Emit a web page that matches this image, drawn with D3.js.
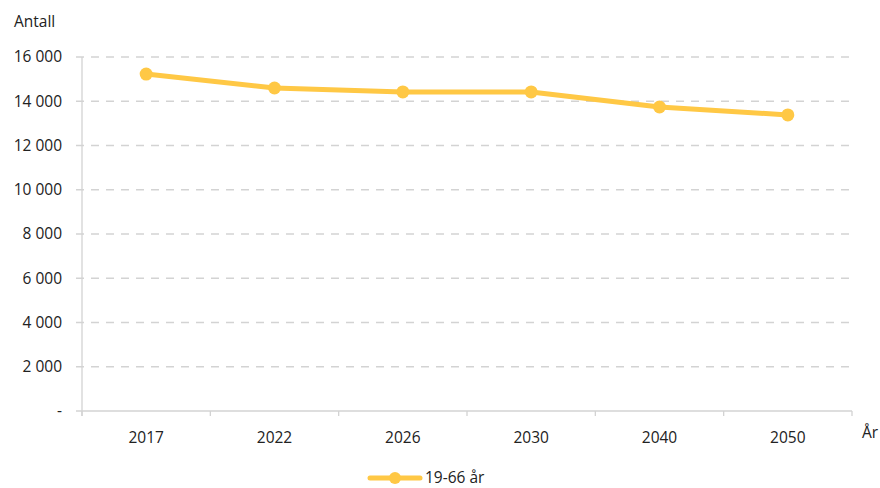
<!DOCTYPE html>
<html>
<head>
<meta charset="utf-8">
<script src="https://cdn.jsdelivr.net/npm/d3@7"></script>
<style>
  body { margin: 0; background: #fff; }
  text { font-family: "Open Sans", sans-serif; fill: #222; }
</style>
</head>
<body>
<div id="chart"></div>
<script>
// Data
const years = ["2017", "2022", "2026", "2030", "2040", "2050"];
const persons = [15230, 14600, 14420, 14420, 13740, 13380];
const yTicks = [0, 2000, 4000, 6000, 8000, 10000, 12000, 14000, 16000];
const seriesName = "19-66 år";

const width = 880, height = 488;
const margin = { top: 57, right: 28, bottom: 77, left: 82 };
const lineColor = "#ffc845";
const fontSize = "15.5px";

const svg = d3.select("#chart").append("svg")
    .attr("width", width)
    .attr("height", height);

const x = d3.scaleBand()
    .domain(years)
    .range([margin.left, width - margin.right]);

const y = d3.scaleLinear()
    .domain([0, 16000])
    .range([height - margin.bottom, margin.top]);

// space as thousands separator, "-" for zero
const nb = d3.formatLocale({ decimal: ",", thousands: "\u2009", grouping: [3], currency: ["", " kr"] });
const fmt = v => v === 0 ? "-" : nb.format(",")(v).replace("\u2009", " ");

// gridlines
svg.append("g")
    .selectAll("line")
    .data(yTicks.filter(d => d > 0))
    .enter()
    .append("line")
    .attr("x1", margin.left - 6)
    .attr("x2", width - margin.right)
    .attr("y1", d => y(d))
    .attr("y2", d => y(d))
    .attr("stroke", "#d3d3d3")
    .attr("stroke-width", 1.3)
    .attr("stroke-dasharray", "8,7");

// y axis line
svg.append("line")
    .attr("x1", margin.left).attr("x2", margin.left)
    .attr("y1", y(16000)).attr("y2", y(0) + 5)
    .attr("stroke", "#d3d3d3").attr("stroke-width", 1.3);

svg.append("line")
    .attr("x1", margin.left - 6).attr("x2", width - margin.right)
    .attr("y1", y(0)).attr("y2", y(0))
    .attr("stroke", "#d3d3d3").attr("stroke-width", 1.3);

// x tick marks at band edges
const edges = years.map(d => x(d)).concat([x.range()[1]]);
svg.append("g")
    .selectAll("line")
    .data(edges)
    .enter()
    .append("line")
    .attr("x1", d => d).attr("x2", d => d)
    .attr("y1", y(0)).attr("y2", y(0) + 5)
    .attr("stroke", "#d3d3d3").attr("stroke-width", 1.3);

// y labels
svg.append("g")
    .selectAll("text")
    .data(yTicks)
    .enter()
    .append("text")
    .attr("x", margin.left - 20)
    .attr("y", d => y(d))
    .attr("dy", "0.35em")
    .attr("text-anchor", "end")
    .style("font-size", fontSize)
    .text(fmt);

// x labels
svg.append("g")
    .selectAll("text")
    .data(years)
    .enter()
    .append("text")
    .attr("x", d => x(d) + x.bandwidth() / 2)
    .attr("y", y(0) + 32)
    .attr("text-anchor", "middle")
    .style("font-size", fontSize)
    .text(d => d);

// axis titles
svg.append("text")
    .attr("x", 14).attr("y", 27)
    .style("font-size", fontSize)
    .text("Antall");

svg.append("text")
    .attr("x", 862).attr("y", y(0) + 27)
    .style("font-size", fontSize)
    .text("År");

// the series
const pts = years.map((d, i) => ({ year: d, value: persons[i] }));
const line = d3.line()
    .x(d => x(d.year) + x.bandwidth() / 2)
    .y(d => y(d.value));

svg.append("path")
    .datum(pts)
    .attr("d", line)
    .attr("fill", "none")
    .attr("stroke", lineColor)
    .attr("stroke-width", 5)
    .attr("stroke-linejoin", "round");

svg.append("g")
    .selectAll("circle")
    .data(pts)
    .enter()
    .append("circle")
    .attr("cx", d => x(d.year) + x.bandwidth() / 2)
    .attr("cy", d => y(d.value))
    .attr("r", 6.5)
    .attr("fill", lineColor);

// legend
const legend = svg.append("g").attr("transform", "translate(370, 478)");
legend.append("line")
    .attr("x1", 0).attr("x2", 50)
    .attr("stroke", lineColor).attr("stroke-width", 5)
    .attr("stroke-linecap", "round");
legend.append("circle")
    .attr("cx", 25).attr("r", 6)
    .attr("fill", lineColor);
legend.append("text")
    .attr("x", 55).attr("dy", "0.35em")
    .style("font-size", fontSize)
    .text(seriesName);
</script>
</body>
</html>
